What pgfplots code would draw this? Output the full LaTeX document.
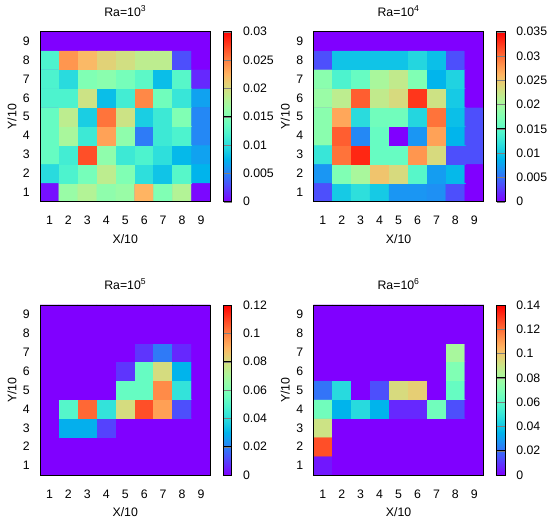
\documentclass[border=0pt]{standalone}
\usepackage{fontspec}
\setmainfont{Liberation Sans}
\usepackage{pgfplots}
\usepackage{pgfplotstable}
\pgfplotsset{compat=1.18}
\definecolor{rbzero}{RGB}{128,0,255}

\pgfplotstableread{
x y c
1 1 0.0006
2 1 0.0165
3 1 0.018
4 1 0.0159
5 1 0.0165
6 1 0.0225
7 1 0.015
8 1 0.018
9 1 0.0003
1 2 0.0099
2 2 0.012
3 2 0.0144
4 2 0.0186
5 2 0.015
6 2 0.0102
7 2 0.0084
8 2 0.0126
9 2 0.0075
1 3 0.0135
2 3 0.0114
3 3 0.027
4 3 0.0159
5 3 0.0111
6 3 0.012
7 3 0.0102
8 3 0.0078
9 3 0.0066
1 4 0.0135
2 4 0.0174
3 4 0.0111
4 4 0.0234
5 4 0.0159
6 4 0.0048
7 4 0.0111
8 4 0.012
9 4 0.0054
1 5 0.0135
2 5 0.0186
3 5 0.009
4 5 0.0255
5 5 0.0195
6 5 0.009
7 5 0.0111
8 5 0.015
9 5 0.0054
1 6 0.012
2 6 0.012
3 6 0.0195
4 6 0.0081
5 6 0.0114
6 6 0.0246
7 6 0.0141
8 6 0.0108
9 6 0.0066
1 7 0.012
2 7 0.0099
3 7 0.015
4 7 0.0156
5 7 0.0144
6 7 0.0129
7 7 0.0081
8 7 0.0126
9 7 0.0015
1 8 0.012
2 8 0.024
3 8 0.0222
4 8 0.0207
5 8 0.0198
6 8 0.0186
7 8 0.0186
8 8 0.003
9 8 0
1 9 0
2 9 0
3 9 0
4 9 0
5 9 0
6 9 0
7 9 0
8 9 0
9 9 0
}\raA

\pgfplotstableread{
x y c
1 1 0.0035
2 1 0.0102
3 1 0.0119
4 1 0.0102
5 1 0.007
6 1 0.007
7 1 0.0067
8 1 0.0035
9 1 0
1 2 0.007
2 2 0.0175
3 2 0.0203
4 2 0.0252
5 2 0.0235
6 2 0.0147
7 2 0.0074
8 2 0.0091
9 2 0
1 3 0.0126
2 3 0.0298
3 3 0.0333
4 3 0.0158
5 3 0.0158
6 3 0.028
7 3 0.0235
8 3 0.0035
9 3 0.0035
1 4 0.0182
2 4 0.0308
3 4 0.0063
4 4 0.0158
5 4 0
6 4 0.007
7 4 0.0273
8 4 0.0088
9 4 0.0035
1 5 0.0182
2 5 0.027
3 5 0.0116
4 5 0.0165
5 5 0.0165
6 5 0.0112
7 5 0.0298
8 5 0.0095
9 5 0.0035
1 6 0.0193
2 6 0.0217
3 6 0.0308
4 6 0.022
5 6 0.0235
6 6 0.0326
7 6 0.0228
8 6 0.0102
9 6 0
1 7 0.0182
2 7 0.014
3 7 0.0158
4 7 0.0203
5 7 0.022
6 7 0.0175
7 7 0.0088
8 7 0.0109
9 7 0
1 8 0.0035
2 8 0.0098
3 8 0.0098
4 8 0.0098
5 8 0.0098
6 8 0.0112
7 8 0.0095
8 8 0.0035
9 8 0
1 9 0
2 9 0
3 9 0
4 9 0
5 9 0
6 9 0
7 9 0
8 9 0
9 9 0
}\raB

\pgfplotstableread{
x y c
1 1 0
2 1 0
3 1 0
4 1 0
5 1 0
6 1 0
7 1 0
8 1 0
9 1 0
1 2 0
2 2 0
3 2 0
4 2 0
5 2 0
6 2 0
7 2 0
8 2 0
9 2 0
1 3 0
2 3 0.029
3 3 0.029
4 3 0.01
5 3 0
6 3 0
7 3 0
8 3 0
9 3 0
1 4 0
2 4 0.05
3 4 0.104
4 4 0.042
5 4 0.08
6 4 0.108
7 4 0.094
8 4 0.012
9 4 0
1 5 0
2 5 0
3 5 0
4 5 0
5 5 0.054
6 5 0.054
7 5 0.098
8 5 0.042
9 5 0
1 6 0
2 6 0
3 6 0
4 6 0
5 6 0.008
6 6 0.054
7 6 0.08
8 6 0.03
9 6 0
1 7 0
2 7 0
3 7 0
4 7 0
5 7 0
6 7 0.008
7 7 0.019
8 7 0.006
9 7 0
1 8 0
2 8 0
3 8 0
4 8 0
5 8 0
6 8 0
7 8 0
8 8 0
9 8 0
1 9 0
2 9 0
3 9 0
4 9 0
5 9 0
6 9 0
7 9 0
8 9 0
9 9 0
}\raC

\pgfplotstableread{
x y c
1 1 0.004
2 1 0
3 1 0
4 1 0
5 1 0
6 1 0
7 1 0
8 1 0
9 1 0
1 2 0.126
2 2 0
3 2 0
4 2 0
5 2 0
6 2 0
7 2 0
8 2 0
9 2 0
1 3 0.091
2 3 0
3 3 0
4 3 0
5 3 0
6 3 0
7 3 0
8 3 0
9 3 0
1 4 0.066
2 4 0.035
3 4 0.046
4 4 0.035
5 4 0.007
6 4 0.007
7 4 0.066
8 4 0.014
9 4 0
1 5 0.021
2 5 0.046
3 5 0
4 5 0.014
5 5 0.094
6 5 0.098
7 5 0
8 5 0.063
9 5 0
1 6 0
2 6 0
3 6 0
4 6 0
5 6 0
6 6 0
7 6 0
8 6 0.07
9 6 0
1 7 0
2 7 0
3 7 0
4 7 0
5 7 0
6 7 0
7 7 0
8 7 0.081
9 7 0
1 8 0
2 8 0
3 8 0
4 8 0
5 8 0
6 8 0
7 8 0
8 8 0
9 8 0
1 9 0
2 9 0
3 9 0
4 9 0
5 9 0
6 9 0
7 9 0
8 9 0
9 9 0
}\raD

\pgfplotsset{
  colormap={gprainbow}{
    rgb255=(128,0,255) rgb255=(102,40,254) rgb255=(77,79,252) rgb255=(51,116,248)
    rgb255=(26,150,243) rgb255=(0,180,236) rgb255=(26,206,227) rgb255=(51,227,218)
    rgb255=(77,243,206) rgb255=(102,252,194) rgb255=(128,255,180) rgb255=(153,252,166)
    rgb255=(179,243,150) rgb255=(204,227,133) rgb255=(230,206,116) rgb255=(255,180,98)
    rgb255=(255,150,79) rgb255=(255,116,59) rgb255=(255,79,40) rgb255=(255,40,20)
    rgb255=(255,0,0)},
  heat/.style={
    scale only axis, width=170.5pt, height=170pt,
    xmin=0.5, xmax=9.5, ymin=0.5, ymax=9.5,
    enlargelimits=false,
    axis on top,
    axis background/.style={fill=rbzero},
    axis line style={line width=0.8pt, black},
    xtick={1,...,9}, ytick={1,...,9},
    major tick length=0pt,
    /pgf/number format/assume math mode=true,
    xticklabel style={inner sep=0pt, anchor=base, yshift=-23.3pt},
    yticklabel style={inner sep=0pt, anchor=east, xshift=-10pt},
    xlabel={X/10}, ylabel={Y/10},
    xlabel style={at={(axis description cs:0.5,-0.218)}, anchor=center},
    ylabel style={at={(axis description cs:-0.165,0.5)}, anchor=center},
    title style={at={(axis description cs:0.5,1.057)}, anchor=base},
    colormap name=gprainbow,
    colorbar,
    point meta=explicit,
  },
  cbar/.style={
    colorbar style={
      at={(parent axis.north east)}, anchor=north west, xshift=4.5pt,
      width=8.3pt,
      scaled y ticks=false,
      axis on top,
      axis line style={line width=0.8pt, black},
      ymajorgrids=true,
      major grid style={draw=black, line width=0.8pt},
      yticklabel style={inner sep=0pt, anchor=west, xshift=11pt},
      /pgf/number format/assume math mode=true,
      #1
    }
  }
}

\begin{document}
\fontsize{12.3}{14.5}\selectfont
\begin{tikzpicture}[x=1pt,y=1pt]
\useasboundingbox (0,0) rectangle (550,523);

\begin{axis}[heat, at={(40pt,321.3pt)}, anchor=south west,
  title={Ra=10\textsuperscript{3}},
  point meta min=0, point meta max=0.03,
  cbar={ytick={0,0.005,0.01,0.015,0.02,0.025,0.03},
        yticklabels={0,0.005,0.01,0.015,0.02,0.025,0.03}}]
\addplot[matrix plot*, mesh/cols=9] table[x=x, y=y, meta=c] {\raA};
\end{axis}

\begin{axis}[heat, at={(313.3pt,321.3pt)}, anchor=south west,
  title={Ra=10\textsuperscript{4}},
  point meta min=0, point meta max=0.035,
  cbar={ytick={0,0.005,0.01,0.015,0.02,0.025,0.03,0.035},
        yticklabels={0,0.005,0.01,0.015,0.02,0.025,0.03,0.035}}]
\addplot[matrix plot*, mesh/cols=9] table[x=x, y=y, meta=c] {\raB};
\end{axis}

\begin{axis}[heat, at={(40pt,48pt)}, anchor=south west,
  title={Ra=10\textsuperscript{5}},
  point meta min=0, point meta max=0.12,
  cbar={ytick={0,0.02,0.04,0.06,0.08,0.1,0.12},
        yticklabels={0,0.02,0.04,0.06,0.08,0.1,0.12}}]
\addplot[matrix plot*, mesh/cols=9] table[x=x, y=y, meta=c] {\raC};
\end{axis}

\begin{axis}[heat, at={(313.3pt,48pt)}, anchor=south west,
  title={Ra=10\textsuperscript{6}},
  point meta min=0, point meta max=0.14,
  cbar={ytick={0,0.02,0.04,0.06,0.08,0.1,0.12,0.14},
        yticklabels={0,0.02,0.04,0.06,0.08,0.1,0.12,0.14}}]
\addplot[matrix plot*, mesh/cols=9] table[x=x, y=y, meta=c] {\raD};
\end{axis}
\end{tikzpicture}
\end{document}
